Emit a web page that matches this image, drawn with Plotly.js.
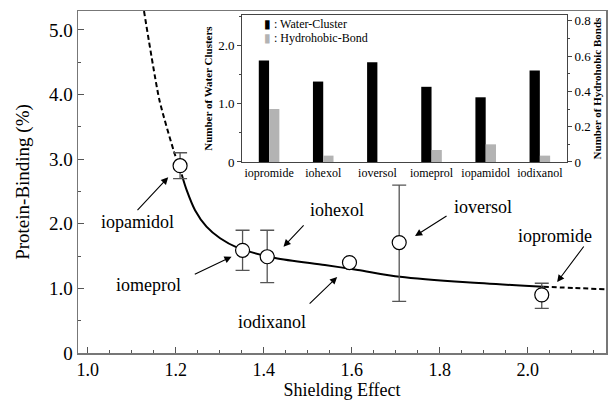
<!DOCTYPE html>
<html>
<head>
<meta charset="utf-8">
<script src="https://cdn.plot.ly/plotly-3.0.1.min.js"></script>
<style>html,body{margin:0;padding:0;background:#fff;}#chart{width:613px;height:400px;}</style>
</head>
<body>
<div id="chart"></div>
<script>
// ---- main scatter data ----
var agentNames = ['iopamidol', 'iomeprol', 'iohexol', 'iodixanol', 'ioversol', 'iopromide'];
var shielding = [1.210, 1.352, 1.408, 1.595, 1.708, 2.032];
var proteinBinding = [2.90, 1.59, 1.49, 1.40, 1.71, 0.90];
var errPlus = [0.20, 0.31, 0.41, NaN, 0.89, 0.18];
var errMinus = [0.20, 0.31, 0.40, NaN, 0.91, 0.21];

// ---- fitted curve ----
var curveSolidX = [1.214, 1.225, 1.244, 1.270, 1.301, 1.339, 1.426, 1.539, 1.614, 1.710, 1.861, 2.036];
var curveSolidY = [2.755, 2.520, 2.210, 1.955, 1.776, 1.636, 1.470, 1.362, 1.285, 1.180, 1.094, 1.026];
var curveDashLeftX = [1.128, 1.163, 1.195, 1.214];
var curveDashLeftY = [5.294, 3.916, 3.142, 2.755];
var curveDashRightX = [2.036, 2.108, 2.176];
var curveDashRightY = [1.026, 1.006, 0.986];

// ---- inset bar data ----
var insetCategories = ['iopromide', 'iohexol', 'ioversol', 'iomeprol', 'iopamidol', 'iodixanol'];
var waterClusters = [1.74, 1.38, 1.71, 1.29, 1.11, 1.57];
var hydrophobicBonds = [0.30, 0.036, 0, 0.068, 0.10, 0.036];

// ---- tick labels ----
var mainXTicks = [1.0, 1.2, 1.4, 1.6, 1.8, 2.0];
var mainXTickText = ['1.0', '1.2', '1.4', '1.6', '1.8', '2.0'];
var mainYTicks = [0, 1, 2, 3, 4, 5];
var mainYTickText = ['0', '1.0', '2.0', '3.0', '4.0', '5.0'];
var insetLeftTicks = [0, 1, 2];
var insetLeftTickText = ['0', '1.0', '2.0'];
var insetRightTicks = [0, 0.2, 0.4, 0.6, 0.8];
var insetRightTickText = ['0', '0.2', '0.4', '0.6', '0.8'];

var SERIF = 'Liberation Serif, Times New Roman, serif';

var traces = [
  {x: curveDashLeftX, y: curveDashLeftY, mode: 'lines', line: {color: '#000', width: 2, dash: '5px,3px', shape: 'spline', smoothing: 0.6}, hoverinfo: 'skip', showlegend: false},
  {x: curveSolidX, y: curveSolidY, mode: 'lines', line: {color: '#000', width: 2, shape: 'spline', smoothing: 0.8}, hoverinfo: 'skip', showlegend: false},
  {x: curveDashRightX, y: curveDashRightY, mode: 'lines', line: {color: '#000', width: 2, dash: '5px,3px', shape: 'spline', smoothing: 0.6}, hoverinfo: 'skip', showlegend: false},
  {x: shielding, y: proteinBinding, text: agentNames, mode: 'markers', showlegend: false,
   marker: {symbol: 'circle', size: 14, color: '#fff', line: {color: '#000', width: 1.2}},
   error_y: {type: 'data', symmetric: false, array: errPlus, arrayminus: errMinus, color: '#555', thickness: 1.3, width: 7}},
  {x: insetCategories, y: waterClusters, type: 'bar', xaxis: 'x2', yaxis: 'y2', marker: {color: '#000'},
   width: 0.19, offset: -0.19, showlegend: false, name: 'Water-Cluster'},
  {x: insetCategories, y: hydrophobicBonds, type: 'bar', xaxis: 'x2', yaxis: 'y3', marker: {color: '#b3b3b3'},
   width: 0.19, offset: 0, showlegend: false, name: 'Hydrohobic-Bond'}
];

function lbl(text, x, y) {
  return {text: text, x: x, y: y, xref: 'x', yref: 'y', showarrow: false, font: {family: SERIF, size: 18, color: '#000'}};
}
function arr(tx, ty, hx, hy) {
  return {text: '', x: hx, y: hy, ax: tx, ay: ty, xref: 'x', yref: 'y', axref: 'x', ayref: 'y',
          showarrow: true, arrowhead: 2, arrowsize: 1.3, arrowwidth: 1.1, arrowcolor: '#000'};
}

var annotations = [
  lbl('iopamidol', 1.113, 2.03), arr(1.110, 2.187, 1.183, 2.72),
  lbl('iomeprol', 1.138, 1.053), arr(1.240, 1.207, 1.327, 1.491),
  lbl('iohexol', 1.567, 2.214), arr(1.494, 1.997, 1.445, 1.646),
  lbl('iodixanol', 1.419, 0.480), arr(1.501, 0.743, 1.567, 1.176),
  lbl('ioversol', 1.899, 2.26), arr(1.819, 2.136, 1.744, 1.811),
  lbl('iopromide', 2.062, 1.811), arr(2.130, 1.672, 2.067, 1.099),
  {text: '<span style="color:#000">▮</span> : Water-Cluster', xref: 'paper', yref: 'paper', x: 0.348, y: 0.962,
   xanchor: 'left', yanchor: 'middle', showarrow: false, font: {family: SERIF, size: 12, color: '#000'}},
  {text: '<span style="color:#b3b3b3">▮</span> : Hydrohobic-Bond', xref: 'paper', yref: 'paper', x: 0.348, y: 0.922,
   xanchor: 'left', yanchor: 'middle', showarrow: false, font: {family: SERIF, size: 12, color: '#000'}}
];

var layout = {
  width: 613, height: 400,
  margin: {l: 78, r: 7, t: 11, b: 47},
  paper_bgcolor: '#fff', plot_bgcolor: '#fff',
  font: {family: SERIF, color: '#000'},
  showlegend: false,
  xaxis: {
    range: [0.978, 2.178], domain: [0, 1], anchor: 'y',
    tickvals: mainXTicks, ticktext: mainXTickText,
    ticks: 'inside', ticklen: 6, tickwidth: 1, tickcolor: '#555',
    minor: {dtick: 0.05, tick0: 1.0, ticks: 'inside', ticklen: 3, tickcolor: '#555', showgrid: false},
    showline: true, linecolor: '#777', linewidth: 1.5, mirror: true,
    showgrid: false, zeroline: false,
    tickfont: {family: SERIF, size: 18, color: '#000'},
    title: {text: 'Shielding Effect', font: {family: SERIF, size: 18, color: '#000'}, standoff: 4}
  },
  yaxis: {
    range: [0, 5.294], domain: [0, 1], anchor: 'x',
    tickvals: mainYTicks, ticktext: mainYTickText,
    ticks: 'inside', ticklen: 6, tickwidth: 1, tickcolor: '#555',
    minor: {dtick: 0.5, tick0: 0, ticks: 'inside', ticklen: 3, tickcolor: '#555', showgrid: false},
    showline: true, linecolor: '#777', linewidth: 1.5, mirror: true,
    showgrid: false, zeroline: false,
    tickfont: {family: SERIF, size: 19, color: '#000'},
    title: {text: 'Protein-Binding (%)', font: {family: SERIF, size: 19, color: '#000'}, standoff: 14}
  },
  xaxis2: {
    domain: [0.3106, 0.926], anchor: 'y2', range: [-0.5, 5.5],
    type: 'category', ticks: '', showline: true, linecolor: '#444', linewidth: 1, mirror: true,
    showgrid: false, zeroline: false, tickfont: {family: SERIF, size: 12, color: '#000'}, ticklabelstandoff: 0
  },
  yaxis2: {
    domain: [0.5585, 0.988], anchor: 'x2', range: [0, 2.52],
    tickvals: insetLeftTicks, ticktext: insetLeftTickText,
    ticks: 'outside', ticklen: 4, tickcolor: '#444',
    minor: {dtick: 0.5, tick0: 0, ticks: 'outside', ticklen: 2, tickcolor: '#444'},
    showline: true, linecolor: '#444', linewidth: 1, showgrid: false, zeroline: false,
    tickfont: {family: SERIF, size: 13, color: '#000'},
    title: {text: '<b>Number of Water Clusters</b>', font: {family: SERIF, size: 11, color: '#000'}, standoff: 3}
  },
  yaxis3: {
    overlaying: 'y2', side: 'right', anchor: 'x2', range: [0, 0.832],
    tickvals: insetRightTicks, ticktext: insetRightTickText,
    ticks: 'outside', ticklen: 4, tickcolor: '#444',
    minor: {dtick: 0.1, tick0: 0, ticks: 'outside', ticklen: 2, tickcolor: '#444'},
    showline: true, linecolor: '#444', linewidth: 1, showgrid: false, zeroline: false,
    tickfont: {family: SERIF, size: 13, color: '#000'},
    title: {text: '<b>Number of Hydrohobic Bonds</b>', font: {family: SERIF, size: 11, color: '#000'}, standoff: 3}
  },
  annotations: annotations
};

Plotly.newPlot('chart', traces, layout, {staticPlot: true, displayModeBar: false});
</script>
</body>
</html>
